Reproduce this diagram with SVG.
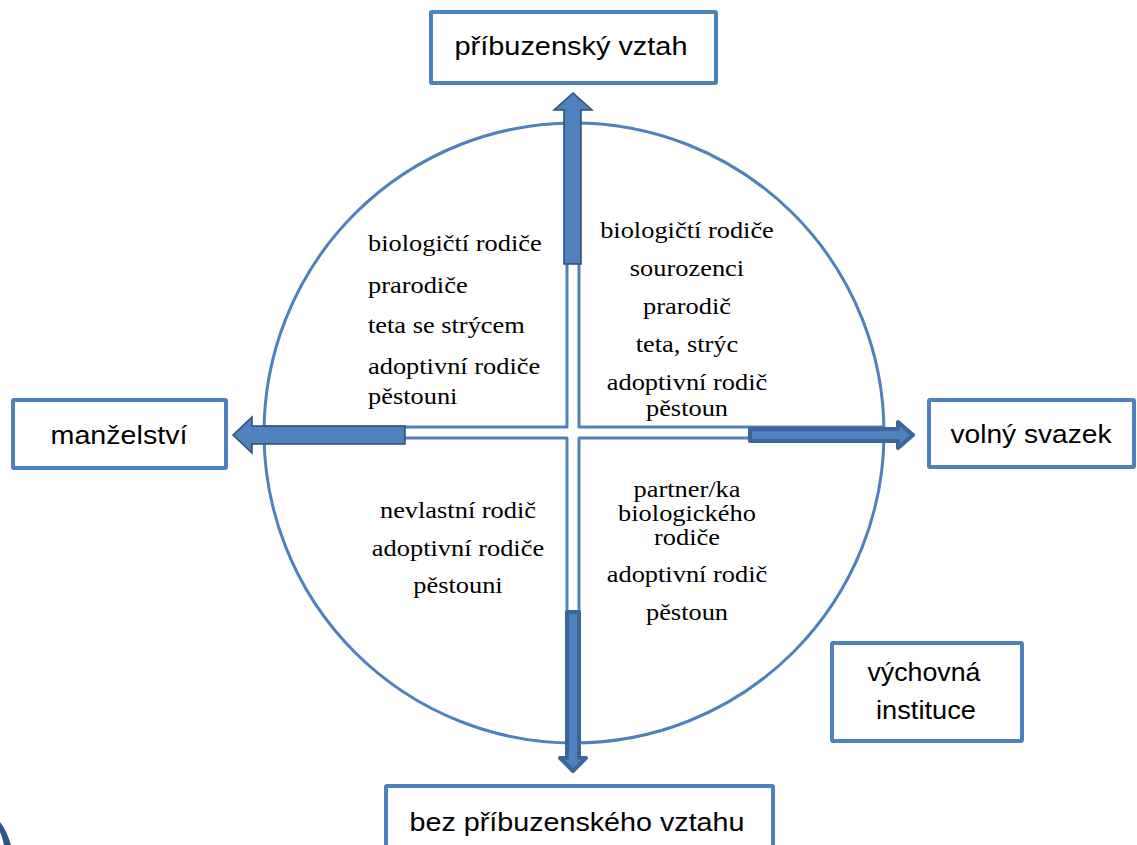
<svg xmlns="http://www.w3.org/2000/svg" width="1137" height="845" viewBox="0 0 1137 845">
<style>
.box{fill:#fff;stroke:#4f81bd;stroke-width:4}
.lbl{font-family:"Liberation Sans",Arial,sans-serif;font-size:26px;fill:#000;text-anchor:middle}
.q{font-family:"Liberation Serif","Times New Roman",serif;font-size:24px;fill:#000}
.ln{fill:none;stroke:#4f81bd;stroke-width:3;stroke-linejoin:round}
.a1{fill:#4f81bd;stroke:#2c4d75;stroke-width:1.5;stroke-linejoin:miter}
.a2{fill:#4f81bd;stroke:#3c6598;stroke-width:4;stroke-linejoin:round}
</style>
<rect width="1137" height="845" fill="#fff"/>
<path d="M0,822 Q7,831 11,845 L4,845 Q2,836 0,832 Z" fill="#2f5487"/>
<g id="frame">
<circle cx="574" cy="433" r="310" class="ln"/>
<polyline class="ln" points="567,123 567,427 263,427"/>
<polyline class="ln" points="579,123 579,427 885,427"/>
<polyline class="ln" points="567,743 567,438 263,438"/>
<polyline class="ln" points="579,743 579,438 885,438"/>
</g>
<g id="connectors">
<polygon class="a1" points="564,264 564,110 554,110 573,93 592,110 581,110 581,264"/>
<polygon class="a1" points="405,426 252,426 252,417 233,435 252,453 252,444 405,444"/>
<polygon class="a2" points="750,429 898,429 898,422 913,435 898,448 898,441 750,441"/>
<polygon class="a2" points="567,612 579,612 579,758 586,758 573,771 560,758 567,758"/>
</g>
<g id="n-top">
<rect class="box" x="431" y="12" width="285" height="71" rx="1"/>
<text class="lbl" x="571" y="55" textLength="233" lengthAdjust="spacingAndGlyphs">příbuzenský vztah</text>
</g>
<g id="n-left">
<rect class="box" x="13" y="400" width="213" height="68" rx="1"/>
<text class="lbl" x="119" y="444" textLength="137" lengthAdjust="spacingAndGlyphs">manželství</text>
</g>
<g id="n-right">
<rect class="box" x="929" y="400" width="205" height="67" rx="1"/>
<text class="lbl" x="1031" y="443" textLength="161" lengthAdjust="spacingAndGlyphs">volný svazek</text>
</g>
<g id="n-inst">
<rect class="box" x="832" y="643" width="190" height="98" rx="1"/>
<text class="lbl" x="924" y="681" textLength="113" lengthAdjust="spacingAndGlyphs">výchovná</text>
<text class="lbl" x="926" y="719" textLength="100" lengthAdjust="spacingAndGlyphs">instituce</text>
</g>
<g id="n-bottom">
<rect class="box" x="386" y="786" width="387" height="90" rx="1"/>
<text class="lbl" x="577" y="831" textLength="335" lengthAdjust="spacingAndGlyphs">bez příbuzenského vztahu</text>
</g>
<g id="q-tl" transform="matrix(1.1,0,0,1,-36.8,0)">
<text class="q" x="368" y="251">biologičtí rodiče</text>
<text class="q" x="368" y="293">prarodiče</text>
<text class="q" x="368" y="333">teta se strýcem</text>
<text class="q" x="368" y="374">adoptivní rodiče</text>
<text class="q" x="368" y="404">pěstouni</text>
</g>
<g id="q-tr" transform="matrix(1.1,0,0,1,-68.7,0)" text-anchor="middle">
<text class="q" x="687" y="238">biologičtí rodiče</text>
<text class="q" x="687" y="276">sourozenci</text>
<text class="q" x="687" y="314">prarodič</text>
<text class="q" x="687" y="352">teta, strýc</text>
<text class="q" x="687" y="390">adoptivní rodič</text>
<text class="q" x="687" y="416">pěstoun</text>
</g>
<g id="q-bl" transform="matrix(1.1,0,0,1,-45.8,0)" text-anchor="middle">
<text class="q" x="458" y="518">nevlastní rodič</text>
<text class="q" x="458" y="556">adoptivní rodiče</text>
<text class="q" x="458" y="593">pěstouni</text>
</g>
<g id="q-br" transform="matrix(1.1,0,0,1,-68.7,0)" text-anchor="middle">
<text class="q" x="687" y="497">partner/ka</text>
<text class="q" x="687" y="521">biologického</text>
<text class="q" x="687" y="545">rodiče</text>
<text class="q" x="687" y="582">adoptivní rodič</text>
<text class="q" x="687" y="620">pěstoun</text>
</g>
</svg>
